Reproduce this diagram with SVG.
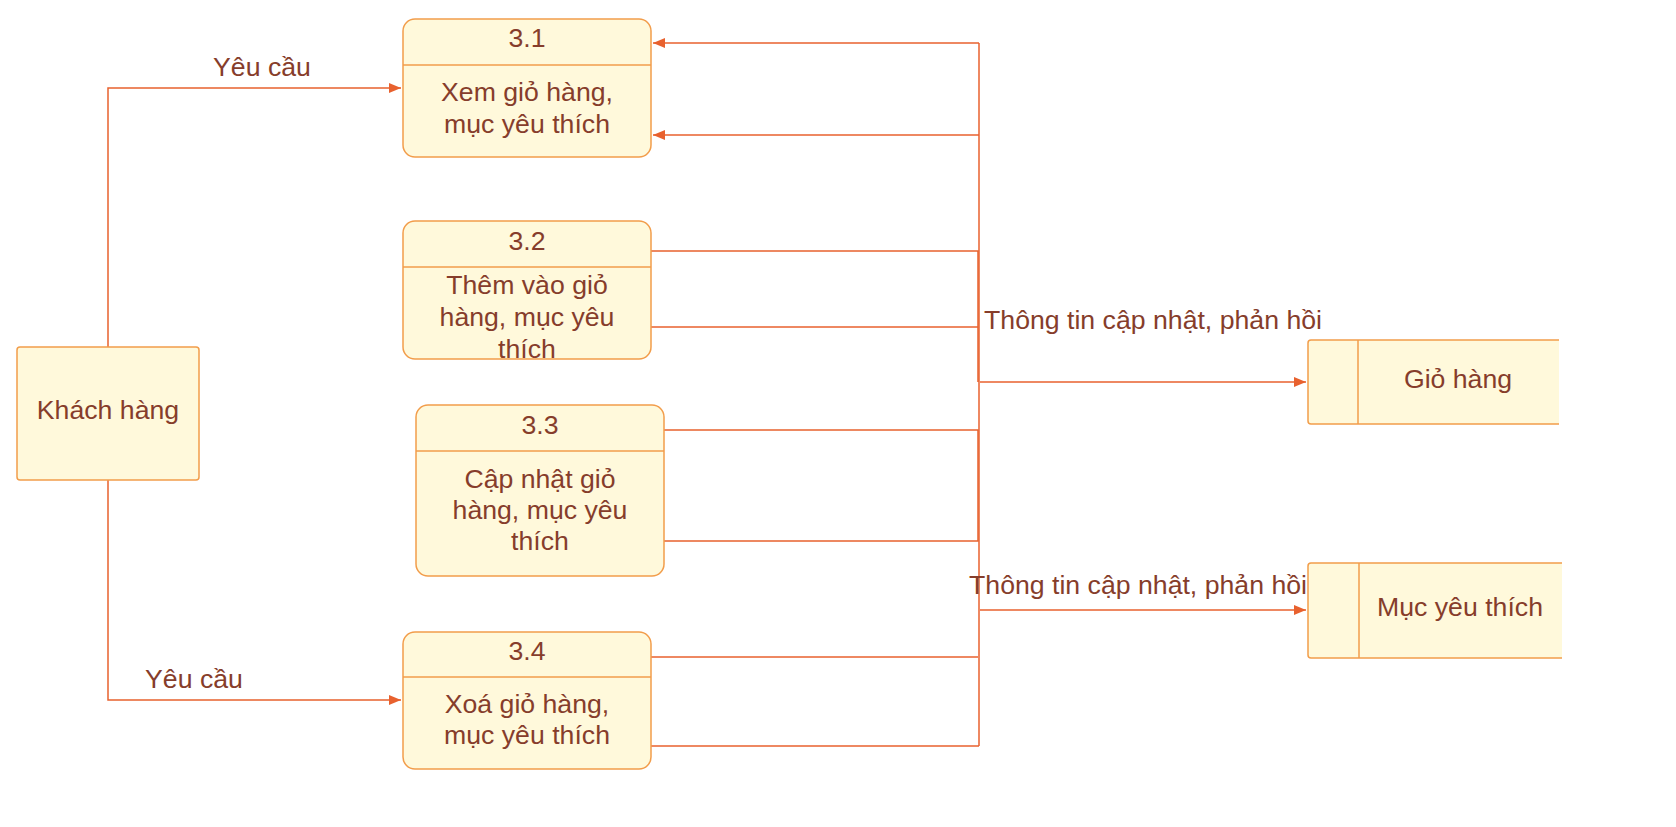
<svg xmlns="http://www.w3.org/2000/svg" width="1676" height="827" viewBox="0 0 1676 827">
<style>
.box{fill:#fff9db;stroke:#f29d4b;stroke-width:1.5}
.div{stroke:#f29d4b;stroke-width:1.5;fill:none}
.t{font-family:"Liberation Sans",Arial,sans-serif;font-size:26.67px;fill:#863d2b;text-anchor:middle}
.c{fill:none;stroke:#e8612e;stroke-width:1.5}
</style>
<defs>
<marker id="ah" viewBox="0 0 12 10" refX="12" refY="5" markerWidth="12" markerHeight="10" markerUnits="userSpaceOnUse" orient="auto">
<path d="M0,0 L12,5 L0,10 Z" fill="#e8612e"/>
</marker>
</defs>
<rect width="1676" height="827" fill="#ffffff"/>
<g id="connectors">
<path class="c" d="M108,347 V88 H401" marker-end="url(#ah)"/>
<path class="c" d="M108,480 V700 H401" marker-end="url(#ah)"/>
<path class="c" d="M979,43 H653" marker-end="url(#ah)"/>
<path class="c" d="M979,135 H653" marker-end="url(#ah)"/>
<path class="c" d="M979,43 V746"/>
<path class="c" d="M651,251 H978 V382"/>
<path class="c" d="M651,327 H978"/>
<path class="c" d="M664,430 H978 V541 H664"/>
<path class="c" d="M651,657 H978"/>
<path class="c" d="M651,746 H979"/>
<path class="c" d="M980,382 H1306" marker-end="url(#ah)"/>
<path class="c" d="M980,610 H1306" marker-end="url(#ah)"/>
<text class="t" x="262" y="76">Yêu cầu</text>
<text class="t" x="194" y="688">Yêu cầu</text>
<text class="t" x="1153" y="329">Thông tin cập nhật, phản hồi</text>
<text class="t" x="1138" y="594">Thông tin cập nhật, phản hồi</text>
</g>
<g id="khach-hang">
<rect class="box" x="17" y="347" width="182" height="133" rx="3"/>
<text class="t" x="108" y="419">Khách hàng</text>
</g>
<g id="p3-1">
<rect class="box" x="403" y="19" width="248" height="138" rx="12"/>
<line class="div" x1="403" y1="65" x2="651" y2="65"/>
<text class="t" x="527" y="47">3.1</text>
<text class="t" x="527" y="101">Xem giỏ hàng,</text>
<text class="t" x="527" y="133">mục yêu thích</text>
</g>
<g id="p3-2">
<rect class="box" x="403" y="221" width="248" height="138" rx="12"/>
<line class="div" x1="403" y1="267" x2="651" y2="267"/>
<text class="t" x="527" y="250">3.2</text>
<text class="t" x="527" y="294">Thêm vào giỏ</text>
<text class="t" x="527" y="326">hàng, mục yêu</text>
<text class="t" x="527" y="358">thích</text>
</g>
<g id="p3-3">
<rect class="box" x="416" y="405" width="248" height="171" rx="12"/>
<line class="div" x1="416" y1="451" x2="664" y2="451"/>
<text class="t" x="540" y="434">3.3</text>
<text class="t" x="540" y="488">Cập nhật giỏ</text>
<text class="t" x="540" y="519">hàng, mục yêu</text>
<text class="t" x="540" y="550">thích</text>
</g>
<g id="p3-4">
<rect class="box" x="403" y="632" width="248" height="137" rx="12"/>
<line class="div" x1="403" y1="677" x2="651" y2="677"/>
<text class="t" x="527" y="660">3.4</text>
<text class="t" x="527" y="713">Xoá giỏ hàng,</text>
<text class="t" x="527" y="744">mục yêu thích</text>
</g>
<g id="gio-hang">
<path class="box" d="M1559,340 H1311 Q1308,340 1308,343 V421 Q1308,424 1311,424 H1559"/>
<line class="div" x1="1358" y1="340" x2="1358" y2="424"/>
<text class="t" x="1458" y="388">Giỏ hàng</text>
</g>
<g id="muc-yeu-thich">
<path class="box" d="M1562,563 H1311 Q1308,563 1308,566 V655 Q1308,658 1311,658 H1562"/>
<line class="div" x1="1359" y1="563" x2="1359" y2="658"/>
<text class="t" x="1460" y="616">Mục yêu thích</text>
</g>
</svg>
